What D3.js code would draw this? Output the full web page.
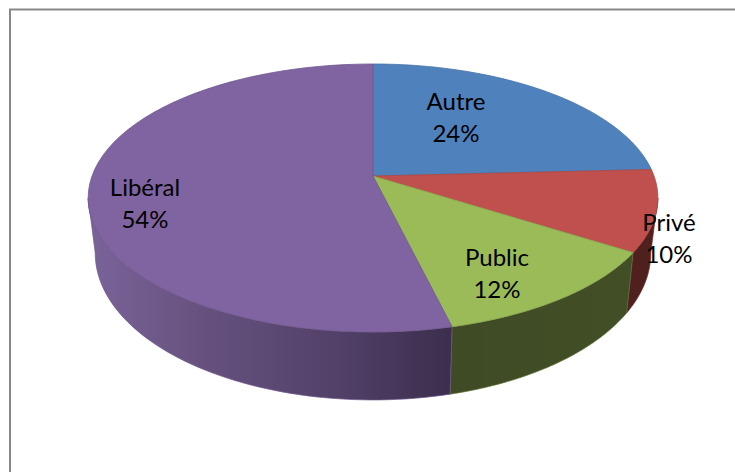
<!DOCTYPE html>
<html><head><meta charset="utf-8">
<script src="https://cdnjs.cloudflare.com/ajax/libs/d3/7.8.5/d3.min.js"></script>
<style>html,body{margin:0;padding:0;background:#fff}svg{display:block}</style></head>
<body><svg id="c" width="735" height="472"></svg>
<script>
const categories = ["Autre","Privé","Public","Libéral"];
const values = [24.2,9.8,12.2,53.8];
const percentLabels = ["24%","10%","12%","54%"];
const topColors = ["#4f81bd","#c0504d","#9bbb59","#8064a2"];
const labelAnchors = [[456,118],[669,238.5],[497,274],[145,204]];

const svg = d3.select("#c");
const cx=373, cy=176, k=-0.164;
const topPlane={a:281,b:130.4,dy:0};
const botPlane={a:274,b:142.9,dy:53};
function project(th,p){
  const X=Math.sin(th),Y=-Math.cos(th),w=1+k*Y;
  return [cx+p.a*X/w, cy+p.dy+p.b*Y/w];
}
const silR=Math.acos(k), silL=2*Math.PI-silR; // silhouette angles
const arcs=d3.pie().sort(null).value(d=>d)(values);
const line=d3.line();
const sample=(a,b,p)=>d3.range(0,61).map(i=>project(a+(b-a)*i/60,p));

// frame (only top and left edges fall inside the picture)
svg.append("path").attr("d","M10,472V9.5H735").attr("fill","none").attr("stroke","#878787").attr("stroke-width",2);

// gradients
const defs=svg.append("defs");
const gp=defs.append("linearGradient").attr("id","gPurple").attr("gradientUnits","userSpaceOnUse")
  .attr("x1",90).attr("x2",452).attr("y1",0).attr("y2",0);
[["0","#7a6399"],["0.3","#67527f"],["0.65","#54426b"],["1","#3c2e4e"]].forEach(s=>gp.append("stop").attr("offset",s[0]).attr("stop-color",s[1]));
const gg=defs.append("linearGradient").attr("id","gGreen").attr("gradientUnits","userSpaceOnUse")
  .attr("x1",450).attr("x2",632).attr("y1",0).attr("y2",0);
[["0","#3f4b24"],["1","#414e26"]].forEach(s=>gg.append("stop").attr("offset",s[0]).attr("stop-color",s[1]));
const sideFill=["#2f4d71","#50201f","url(#gGreen)","url(#gPurple)"];
const sideEdge=["#2f4d71","#6b2d2b","#5f7336","#6a5488"];

// walls
arcs.forEach((d,i)=>{
  const a=Math.max(d.startAngle,silR), b=Math.min(d.endAngle,silL);
  if(b<=a) return;
  const pts=sample(a,b,topPlane).concat(sample(a,b,botPlane).reverse());
  svg.append("path").attr("d",line(pts)+"Z").attr("fill",sideFill[i]).attr("stroke",sideEdge[i]).attr("stroke-width",.7);
});

// top wedges
arcs.forEach((d,i)=>{
  const pts=[[cx,cy]].concat(sample(d.startAngle,d.endAngle,topPlane));
  svg.append("path").attr("d",line(pts)+"Z").attr("fill",topColors[i])
    .attr("stroke",d3.color(topColors[i]).darker(.35)).attr("stroke-width",.8).attr("stroke-linejoin","round");
});

// labels
categories.forEach((c,i)=>{
  const [x,y]=labelAnchors[i];
  const t=svg.append("text").attr("text-anchor","middle").attr("font-family","Lato, Carlito, sans-serif")
    .attr("font-size",24).attr("fill","#000");
  t.append("tspan").attr("x",x).attr("y",y-8).text(c);
  t.append("tspan").attr("x",x).attr("y",y+24).text(percentLabels[i]);
});
</script></body></html>
